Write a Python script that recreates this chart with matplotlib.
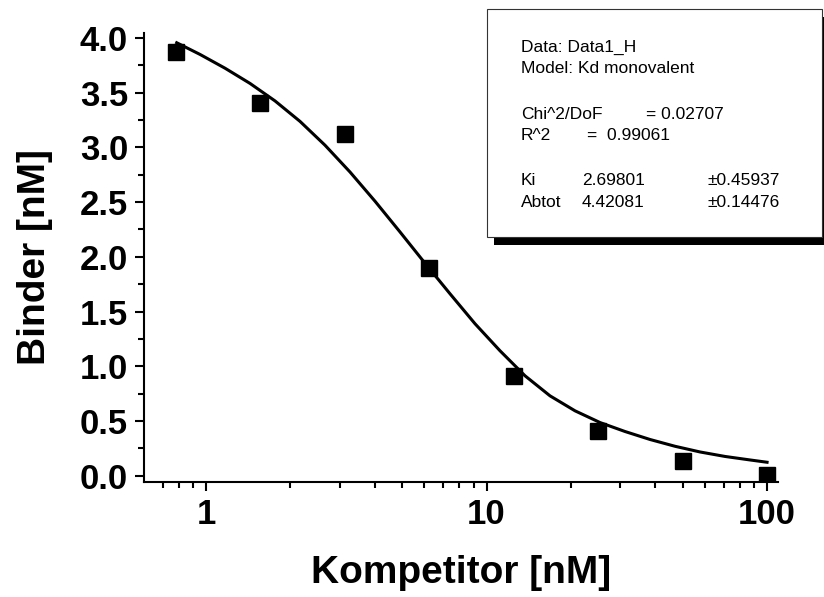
import numpy as np
import matplotlib
matplotlib.use("Agg")
import matplotlib.pyplot as plt
from matplotlib.ticker import MultipleLocator, NullFormatter
from matplotlib.patches import Rectangle

plt.rcParams['font.family'] = ['Liberation Sans', 'DejaVu Sans']

# measured binding data
komp = [0.78125, 1.5625, 3.125, 6.25, 12.5, 25, 50, 100]
binder = [3.87, 3.41, 3.125, 1.895, 0.913, 0.405, 0.13, 0.01]

# fitted curve (Kd monovalent)
fit_x = [0.786, 0.952, 1.169, 1.435, 1.762, 2.163, 2.656, 3.261, 4.004, 4.916,
         6.036, 7.410, 9.099, 11.17, 13.72, 16.84, 20.68, 25.39, 31.17, 38.28,
         46.99, 57.70, 70.85, 86.98, 100]
fit_y = [3.957, 3.850, 3.724, 3.585, 3.425, 3.238, 3.020, 2.775, 2.508, 2.227,
         1.941, 1.662, 1.388, 1.141, 0.912, 0.729, 0.592, 0.485, 0.403, 0.330,
         0.268, 0.216, 0.175, 0.143, 0.122]

fit_info = [
    ("Data: Data1_H",),
    ("Model: Kd monovalent",),
    ("Chi^2/DoF", "= 0.02707"),
    ("R^2", "=  0.99061"),
    ("Ki", "2.69801", "\u00b10.45937"),
    ("Abtot", "4.42081", "\u00b10.14476"),
]

W, H = 824, 597
fig = plt.figure(figsize=(W / 100, H / 100), dpi=100)
ax = fig.add_axes([144 / W, 1 - 482 / H, (778 - 144) / W, (482 - 33) / H])

ax.plot(fit_x, fit_y, color='black', lw=2.2, zorder=2, solid_joinstyle='round')
ax.plot(komp, binder, 's', color='black', ms=12, zorder=3)

ax.set_xscale('log')
ax.set_xlim(0.601, 109.4)
ax.set_ylim(-0.0585, 4.046)
ax.set_xticks([1, 10, 100], labels=['1', '10', '100'])
ax.xaxis.set_minor_formatter(NullFormatter())
ax.yaxis.set_major_locator(MultipleLocator(0.5))
ax.yaxis.set_minor_locator(MultipleLocator(0.25))
ax.yaxis.set_major_formatter(matplotlib.ticker.FormatStrFormatter('%.1f'))

for s in ['top', 'right']:
    ax.spines[s].set_visible(False)
for s in ['left', 'bottom']:
    ax.spines[s].set_linewidth(1.5)

ax.tick_params(which='major', direction='out', length=6.5, width=1.5,
               labelsize=25, pad=5)
ax.tick_params(which='minor', direction='out', length=4, width=1.5)
for lab in ax.get_xticklabels() + ax.get_yticklabels():
    lab.set_fontweight('bold')

ax.set_xlabel('Kompetitor [nM]', fontsize=28, fontweight='bold', labelpad=17)
ax.set_ylabel('Binder [nM]', fontsize=28, fontweight='bold', labelpad=19)

# parameter box with drop shadow
bx0, by0, bx1, by1 = 486.7, 9.3, 821.7, 237.3
fig.patches.append(Rectangle(((bx0 + 7) / W, 1 - (by1 + 8) / H), (bx1 - bx0) / W,
                             (by1 - by0) / H, transform=fig.transFigure,
                             facecolor='black', edgecolor='none', zorder=5))
fig.patches.append(Rectangle((bx0 / W, 1 - by1 / H), (bx1 - bx0) / W,
                             (by1 - by0) / H, transform=fig.transFigure,
                             facecolor='white', edgecolor='#333333', lw=0.8, zorder=6))

rows_y = [51.7, 73.3, 119, 140.5, 185, 206.7]
cols = {
    2: [520.7, 645.7],
    3: [520.7, 586.7],
    4: [520.7, 581.7, 707.7],
    5: [520.7, 581.7, 707.7],
}
for i, (row, yb) in enumerate(zip(fit_info, rows_y)):
    xs = cols.get(i, [520.7])
    for txt, xp in zip(row, xs):
        fig.text(xp / W, 1 - yb / H, txt, fontsize=12.5, va='baseline', ha='left',
                 zorder=7)

fig.savefig('out.png', dpi=100)
